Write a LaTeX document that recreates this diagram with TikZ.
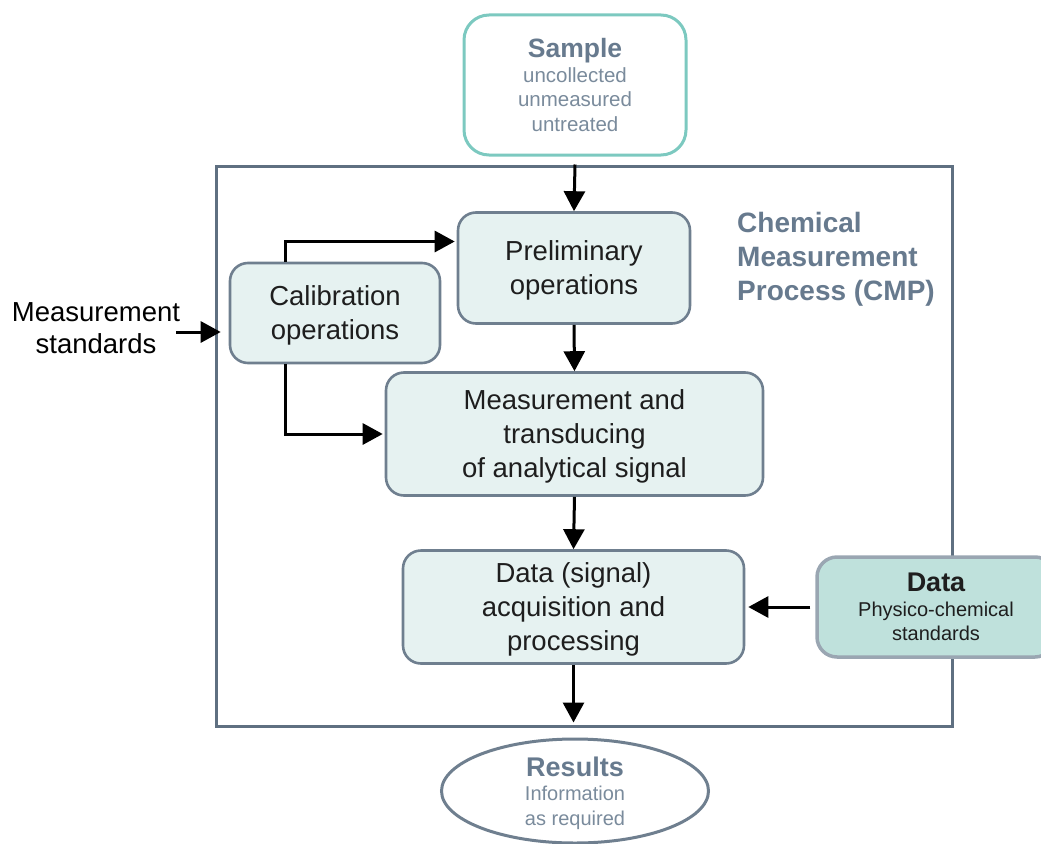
\documentclass[tikz,border=0pt]{standalone}
\usepackage{fontspec}
\setmainfont{Liberation Sans}
\usetikzlibrary{arrows.meta,shapes.geometric}
\definecolor{framec}{HTML}{5F7081}
\definecolor{boxline}{HTML}{6F7F8F}
\definecolor{boxfill}{HTML}{E6F2F1}
\definecolor{tealline}{HTML}{7CC9C0}
\definecolor{datafill}{HTML}{BFE1DC}
\definecolor{dataline}{HTML}{9AA6B2}
\definecolor{titlec}{HTML}{677A8E}
\definecolor{subc}{HTML}{7A8B9C}
\definecolor{inkc}{HTML}{1E1E1E}
\tikzset{
  stepbox/.style={draw=boxline, fill=boxfill, line width=2.6pt, rounded corners=18pt,
    align=center, text=inkc, inner sep=0pt, text depth=0pt,
    font=\fontsize{27.5}{34}\selectfont},
  arr/.style={-{Triangle[length=20pt,width=21pt]}, line width=3pt, draw=black}
}
\begin{document}
\begin{tikzpicture}[x=1pt,y=-1pt]
\useasboundingbox (0,0) rectangle (1041,843);

% outer process frame
\node[draw=framec, line width=3pt, minimum width=736pt, minimum height=560pt, inner sep=0pt]
  (cmp) at (584,446) {};
\node[anchor=west, align=left, inner sep=0pt, text=titlec, font=\fontsize{28}{34}\selectfont\bfseries]
  (cmplabel) at (737,259) {Chemical\\Measurement\\Process (CMP)};

% sample (input)
\node[draw=tealline, fill=white, line width=3pt, rounded corners=25pt,
  minimum width=222pt, minimum height=140pt, inner sep=0pt, align=center, text=subc,
  text depth=0pt, font=\fontsize{20.5}{24.5}\selectfont] (sample) at (575,85)
  {{\fontsize{26.5}{27}\selectfont\bfseries\color{titlec}Sample}\\uncollected\\unmeasured\\untreated};

% process steps
\node[stepbox, minimum width=232pt, minimum height=111pt] (prelim) at (574,268)
  {Preliminary\\operations};
\node[stepbox, minimum width=210pt, minimum height=100pt] (calib) at (335,313)
  {Calibration\\operations};
\node[stepbox, minimum width=377pt, minimum height=123pt] (meas) at (574.5,434)
  {Measurement and\\transducing\\of analytical signal};
\node[stepbox, minimum width=341pt, minimum height=113pt] (acq) at (573.5,607)
  {Data (signal)\\acquisition and\\processing};

% external data
\node[draw=dataline, fill=datafill, line width=3.5pt, rounded corners=20pt,
  minimum width=238pt, minimum height=100pt, inner sep=0pt, align=center, text=inkc,
  text depth=0pt, font=\fontsize{20}{24.5}\selectfont] (data) at (936,607)
  {{\fontsize{27}{27}\selectfont\bfseries Data}\\Physico-chemical\\standards};

% results (output)
\node[ellipse, draw=boxline, fill=white, line width=3pt, minimum width=267pt,
  minimum height=104pt, inner sep=0pt, align=center, text=subc, text depth=0pt,
  font=\fontsize{20}{24.5}\selectfont] (results) at (575,791)
  {{\fontsize{27}{27}\selectfont\bfseries\color{titlec}Results}\\Information\\as required};

% measurement standards
\node[align=center, inner sep=0pt, text=black, font=\fontsize{27.5}{32}\selectfont]
  (ms) at (96,328) {Measurement\\standards};

% connectors
\draw[arr] (sample.south |- cmp.north) -- (prelim.north);
\draw[arr] (prelim.south) -- (meas.north);
\draw[arr] (meas.south) -- (acq.north);
\draw[arr, shorten >=5pt] (acq.south) -- (acq.south |- cmp.south);
\draw[arr, shorten <=5pt, shorten >=3pt] (data.west) -- (acq.east);
\draw[arr, shorten >=2pt] ([xshift=-50pt]calib.north) |- ([yshift=26.5pt]prelim.west);
\draw[arr, shorten >=2pt] ([xshift=-50pt]calib.south) |- (meas.west);
\draw[arr, shorten <=-4pt, shorten >=8pt] ([yshift=-19pt]calib.west -| ms.east) -- ([yshift=-19pt]calib.west);
\end{tikzpicture}
\end{document}
